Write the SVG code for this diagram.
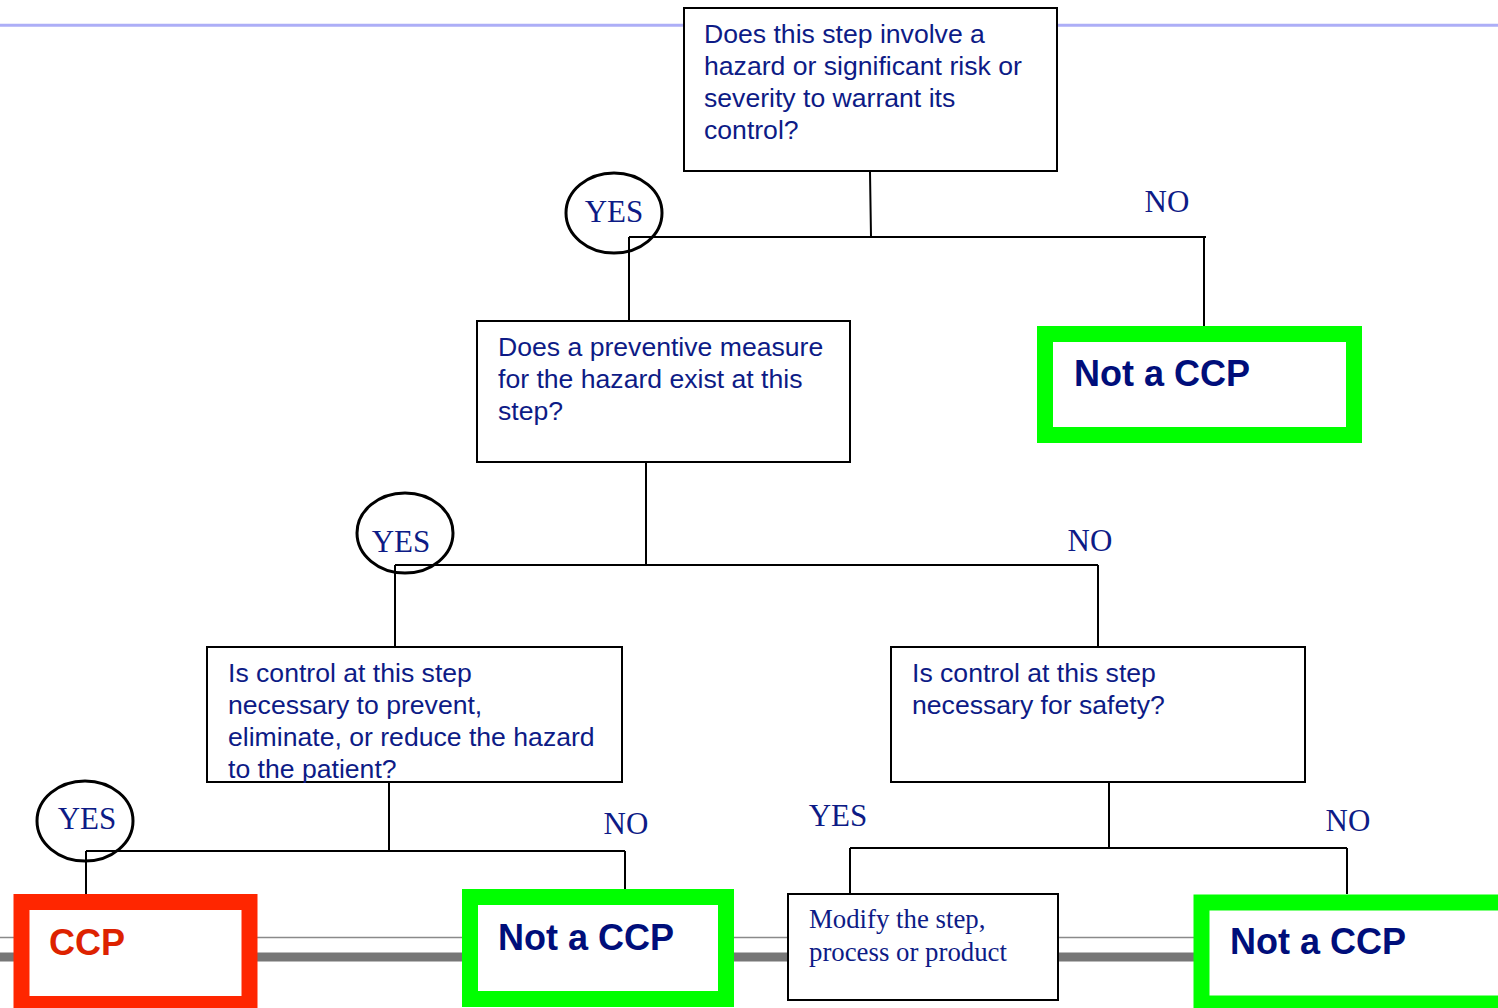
<svg xmlns="http://www.w3.org/2000/svg" width="1498" height="1008" viewBox="0 0 1498 1008">
<style>
.box{fill:#fff;stroke:#000;stroke-width:2}
.q{font-family:"Liberation Sans",Arial,sans-serif;font-size:26.6px;fill:#0D1B86}
.lbl{font-family:"Liberation Serif","Times New Roman",serif;font-size:31px;fill:#0D1B86;text-anchor:middle}
.ser{font-family:"Liberation Serif","Times New Roman",serif;font-size:26.8px;fill:#0D1B86}
.ok{fill:#fff;stroke:#00FF00;stroke-width:16}
.ccp{fill:#fff;stroke:#FF2600;stroke-width:16}
.big{font-family:"Liberation Sans",Arial,sans-serif;font-size:36px;font-weight:bold;fill:#000E7A}
.bigr{font-family:"Liberation Sans",Arial,sans-serif;font-size:36px;font-weight:bold;fill:#DD2200}
.c{stroke:#000;stroke-width:2;fill:none}
.ring{fill:none;stroke:#000;stroke-width:3}
</style>
<g id="background">
<line x1="0" y1="25.3" x2="1498" y2="25.3" stroke="#ADAEF7" stroke-width="3"/>
<line x1="0" y1="937.5" x2="1498" y2="937.5" stroke="#8A8A8A" stroke-width="1.6"/>
<line x1="0" y1="957" x2="1498" y2="957" stroke="#767676" stroke-width="9"/>
</g>
<g id="connectors">
<path class="c" d="M870 172 L871 237 M629 237 H1206 M629 237 V321 M1204 237 V326"/>
<path class="c" d="M646 462 V565 M395 565 H1098 M395 565 V647 M1098 565 V647"/>
<path class="c" d="M389 782 V851 M86 851 H625 M86 851 V894 M625 851 V889"/>
<path class="c" d="M1109 783 V848 M850 848 H1347 M850 848 V894 M1347 848 V894"/>
</g>
<g id="q1">
<rect class="box" x="684" y="8" width="373" height="163"/>
<text class="q"><tspan x="704" y="43">Does this step involve a</tspan><tspan x="704" y="75">hazard or significant risk or</tspan><tspan x="704" y="107">severity to warrant its</tspan><tspan x="704" y="139">control?</tspan></text>
</g>
<g id="yes1">
<ellipse class="ring" cx="614" cy="213" rx="48" ry="40"/>
<text class="lbl" x="614" y="222">YES</text>
</g>
<g id="no1"><text class="lbl" x="1167" y="212">NO</text></g>
<g id="notccp1">
<rect class="ok" x="1045" y="334" width="309" height="101"/>
<text class="big" x="1074" y="386">Not a CCP</text>
</g>
<g id="q2">
<rect class="box" x="477" y="321" width="373" height="141"/>
<text class="q"><tspan x="498" y="356">Does a preventive measure</tspan><tspan x="498" y="388">for the hazard exist at this</tspan><tspan x="498" y="420">step?</tspan></text>
</g>
<g id="yes2">
<ellipse class="ring" cx="405" cy="533" rx="48" ry="40"/>
<text class="lbl" x="401" y="552">YES</text>
</g>
<g id="no2"><text class="lbl" x="1090" y="551">NO</text></g>
<g id="q3">
<rect class="box" x="207" y="647" width="415" height="135"/>
<text class="q"><tspan x="228" y="682">Is control at this step</tspan><tspan x="228" y="714">necessary to prevent,</tspan><tspan x="228" y="746">eliminate, or reduce the hazard</tspan><tspan x="228" y="778">to the patient?</tspan></text>
</g>
<g id="q4">
<rect class="box" x="891" y="647" width="414" height="135"/>
<text class="q"><tspan x="912" y="682">Is control at this step</tspan><tspan x="912" y="714">necessary for safety?</tspan></text>
</g>
<g id="yes3">
<ellipse class="ring" cx="85" cy="821" rx="48" ry="40"/>
<text class="lbl" x="87" y="829">YES</text>
</g>
<g id="no3"><text class="lbl" x="626" y="834">NO</text></g>
<g id="yes4"><text class="lbl" x="838" y="826">YES</text></g>
<g id="no4"><text class="lbl" x="1348" y="831">NO</text></g>
<g id="ccp">
<rect class="ccp" x="21.5" y="902" width="228" height="102"/>
<text class="bigr" x="49" y="955">CCP</text>
</g>
<g id="notccp2">
<rect class="ok" x="470" y="897" width="256" height="102"/>
<text class="big" x="498" y="950">Not a CCP</text>
</g>
<g id="modify">
<rect class="box" x="788" y="894" width="270" height="106"/>
<text class="ser"><tspan x="809" y="928">Modify the step,</tspan><tspan x="809" y="961">process or product</tspan></text>
</g>
<g id="notccp3">
<rect class="ok" x="1201.5" y="902.5" width="309" height="101"/>
<text class="big" x="1230" y="954">Not a CCP</text>
</g>
</svg>
